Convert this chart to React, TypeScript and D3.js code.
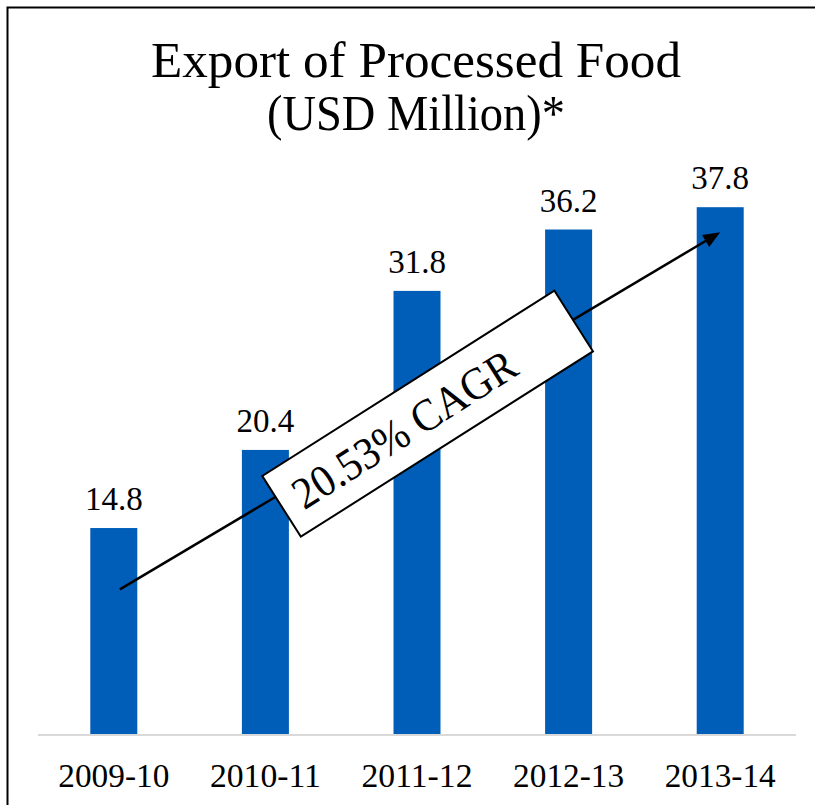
import * as d3 from "d3";

const categories = ["2009-10", "2010-11", "2011-12", "2012-13", "2013-14"];
const values = [14.8, 20.4, 31.8, 36.2, 37.8];
const yDomain: [number, number] = [0, 40];
const titleLines = ["Export of Processed Food", "(USD Million)*"];
const cagrLabel = "20.53% CAGR";
// annotation positions as [category index, value]
const arrowStart: [number, number] = [0.04, 10.4];
const arrowEnd: [number, number] = [4, 36.0];
const boxCenter: [number, number] = [2.07, 23.0];

const W = 815;
const H = 805;
const FONT = "'Liberation Serif', 'Times New Roman', serif";

export default function App() {
  const left = 38;
  const right = 796;
  const baseY = 734.5;
  const topY = 176.5;

  const x = d3.scaleBand<string>()
    .domain(categories)
    .range([left, right])
    .paddingInner(0.69)
    .paddingOuter(0.345);

  const y = d3.scaleLinear().domain(yDomain).range([baseY, topY]);

  const bw = x.bandwidth();
  const cx = (c: string) => (x(c) ?? 0) + bw / 2;
  const xi = d3.scaleLinear()
    .domain([0, categories.length - 1])
    .range([cx(categories[0]), cx(categories[categories.length - 1])]);

  const ax0 = xi(arrowStart[0]);
  const ay0 = y(arrowStart[1]);
  const ax1 = xi(arrowEnd[0]);
  const ay1 = y(arrowEnd[1]);
  const ang = Math.atan2(ay1 - ay0, ax1 - ax0);
  const headLen = 17;
  const headW = 7;
  // stop the shaft inside the head so the tip stays sharp
  const lx1 = ax1 - Math.cos(ang) * headLen * 0.8;
  const ly1 = ay1 - Math.sin(ang) * headLen * 0.8;
  const bx = ax1 - Math.cos(ang) * headLen;
  const by = ay1 - Math.sin(ang) * headLen;
  const head = [
    [ax1, ay1],
    [bx + Math.sin(ang) * headW, by - Math.cos(ang) * headW],
    [bx - Math.sin(ang) * headW, by + Math.cos(ang) * headW],
  ].map(p => p.join(",")).join(" ");

  const bcx = xi(boxCenter[0]);
  const bcy = y(boxCenter[1]);
  const boxW = 346;
  const boxH = 72;
  const boxAngle = -32.4;

  return (
    <svg
      width={W}
      height={H}
      style={{ position: "absolute", left: 0, top: 0, background: "#fff" }}
      fontFamily={FONT}
    >
      <rect x={7.5} y={7.5} width={W + 50} height={H + 50} fill="#fff" stroke="#000" strokeWidth={2} />

      <text x={416} y={77} textAnchor="middle" fontSize={50} textLength={530} lengthAdjust="spacingAndGlyphs" fill="#000">
        {titleLines[0]}
      </text>
      <text x={416} y={130} textAnchor="middle" fontSize={50} textLength={298} lengthAdjust="spacingAndGlyphs" fill="#000">
        {titleLines[1]}
      </text>

      {values.map((v, i) => (
        <rect
          key={categories[i]}
          x={x(categories[i])}
          y={y(v)}
          width={bw}
          height={baseY - y(v)}
          fill="#005eb8"
        />
      ))}

      <line x1={left} x2={right} y1={baseY + 0.5} y2={baseY + 0.5} stroke="#d9d9d9" strokeWidth={2} />

      {values.map((v, i) => (
        <text
          key={"v" + i}
          x={cx(categories[i])}
          y={y(v) - 18}
          textAnchor="middle"
          fontSize={33}
          fill="#000"
        >
          {v.toFixed(1)}
        </text>
      ))}

      {categories.map(c => (
        <text key={"c" + c} x={cx(c)} y={787} textAnchor="middle" fontSize={33} textLength={111} lengthAdjust="spacingAndGlyphs" fill="#000">
          {c}
        </text>
      ))}

      <line x1={ax0} y1={ay0} x2={lx1} y2={ly1} stroke="#000" strokeWidth={2.5} />
      <polygon points={head} fill="#000" />

      <g transform={`translate(${bcx},${bcy}) rotate(${boxAngle})`}>
        <rect x={-boxW / 2} y={-boxH / 2} width={boxW} height={boxH} fill="#fff" stroke="#000" strokeWidth={2} />
        <text x={-28} y={0} dy="0.35em" textAnchor="middle" fontSize={45} textLength={256} lengthAdjust="spacingAndGlyphs" fill="#000">
          {cagrLabel}
        </text>
      </g>
    </svg>
  );
}
